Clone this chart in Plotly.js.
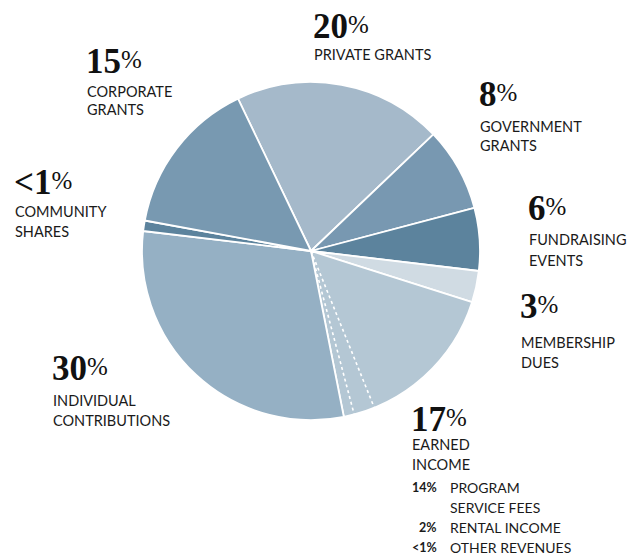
<!DOCTYPE html>
<html>
<head>
<meta charset="utf-8">
<script src="https://cdn.plot.ly/plotly-3.0.1.min.js"></script>
<style>html,body{margin:0;padding:0;background:#fff;}#chart{width:637px;height:555px;}</style>
</head>
<body>
<div id="chart"></div>
<script>
// ---- data ----
const categories = ['PRIVATE GRANTS','GOVERNMENT GRANTS','FUNDRAISING EVENTS','MEMBERSHIP DUES','EARNED INCOME','INDIVIDUAL CONTRIBUTIONS','COMMUNITY SHARES','CORPORATE GRANTS'];
const values = [20, 8, 6, 3, 17, 30, 1, 15];
const pctLabels = ['20', '8', '6', '3', '17', '30', '<1', '15'];
const labelLines = [['PRIVATE GRANTS'], ['GOVERNMENT', 'GRANTS'], ['FUNDRAISING', 'EVENTS'], ['MEMBERSHIP', 'DUES'], ['EARNED', 'INCOME'], ['INDIVIDUAL', 'CONTRIBUTIONS'], ['COMMUNITY', 'SHARES'], ['CORPORATE', 'GRANTS']];
const earnedSub = [['PROGRAM', 'SERVICE FEES'], ['RENTAL INCOME'], ['OTHER REVENUES']];
const earnedValues = [14, 2, 1];
const earnedPctLabels = ['14%', '2%', '<1%'];

// ---- style / geometry ----
const W = 637, H = 555;
const colors = ['#a5b9ca', '#7898b1', '#5c839d', '#d0dbe3', '#b4c7d4', '#95b0c4', '#5c839d', '#7899b1'];
const CX = 311, CY = 251, R = 169;
const ROT = -25.6;
const px = x => x / W, py = y => 1 - y / H;

// label anchor positions (x left, y center of percent, y centers of label lines)
const labelPos = [
  [313, 26, [55]],
  [479, 94, [126, 145]],
  [528, 208, [239, 260]],
  [520, 306, [342, 362]],
  [411, 419, [444, 464]],
  [52, 368, [401, 420]],
  [14, 182, [211, 232]],
  [86, 61, [91, 110]]
];
const subPos = [[487, 507], [527], [547]];

const annotations = [];
const sans = 'Lato, "Open Sans", sans-serif';
const serif = '"Liberation Serif", "DejaVu Serif", serif';
pctLabels.forEach((p, i) => {
  const [x, y, ly] = labelPos[i];
  annotations.push({
    x: px(x - 2), y: py(y), xref: 'paper', yref: 'paper', xanchor: 'left', yanchor: 'middle',
    showarrow: false, align: 'left', height: 30,
    text: '<b>' + p.replace('<', '&lt;') + '</b><span style="font-size:25px;font-weight:normal;baseline-shift:5px">%</span>',
    font: {family: serif, size: 35, color: '#111'}
  });
  labelLines[i].forEach((t, j) => {
    annotations.push({
      x: px(x - 1), y: py(ly[j]), xref: 'paper', yref: 'paper', xanchor: 'left', yanchor: 'middle',
      showarrow: false, text: t, font: {family: sans, size: 14.5, color: '#1a1a1a'}
    });
  });
});
earnedSub.forEach((lines, i) => {
  annotations.push({
    x: px(439), y: py(subPos[i][0]), xref: 'paper', yref: 'paper', xanchor: 'right', yanchor: 'middle',
    showarrow: false, text: '<b>' + earnedPctLabels[i].replace('<', '&lt;') + '</b>',
    font: {family: sans, size: 12.5, color: '#1a1a1a'}
  });
  lines.forEach((t, j) => {
    annotations.push({
      x: px(448), y: py(subPos[i][j]), xref: 'paper', yref: 'paper', xanchor: 'left', yanchor: 'middle',
      showarrow: false, text: t, font: {family: sans, size: 14, color: '#1a1a1a'}
    });
  });
});

// dotted sub-boundaries inside the earned income slice
const total = values.reduce((a, b) => a + b, 0);
const earnedIdx = 4;
let cum = values.slice(0, earnedIdx).reduce((a, b) => a + b, 0);
const shapes = [];
for (let k = 0; k < earnedValues.length - 1; k++) {
  cum += earnedValues[k];
  const a = (ROT + 360 * cum / total) * Math.PI / 180;
  const ex = CX + R * Math.sin(a), ey = CY - R * Math.cos(a);
  shapes.push({
    type: 'line', xref: 'paper', yref: 'paper',
    x0: px(CX), y0: py(CY), x1: px(ex), y1: py(ey),
    line: {color: '#ffffff', width: 1.6, dash: 'dot'}
  });
}

const trace = {
  type: 'pie',
  labels: categories,
  values: values,
  sort: false,
  direction: 'clockwise',
  rotation: ROT,
  textinfo: 'none',
  hoverinfo: 'label+percent',
  marker: {colors: colors, line: {color: '#ffffff', width: 1.8}},
  domain: {x: [px(CX - R), px(CX + R)], y: [py(CY + R), py(CY - R)]},
  showlegend: false
};

Plotly.newPlot('chart', [trace], {
  width: W, height: H,
  margin: {l: 0, r: 0, t: 0, b: 0},
  paper_bgcolor: '#ffffff',
  showlegend: false,
  annotations: annotations,
  shapes: shapes
}, {displayModeBar: false, staticPlot: true});
</script>
</body>
</html>
